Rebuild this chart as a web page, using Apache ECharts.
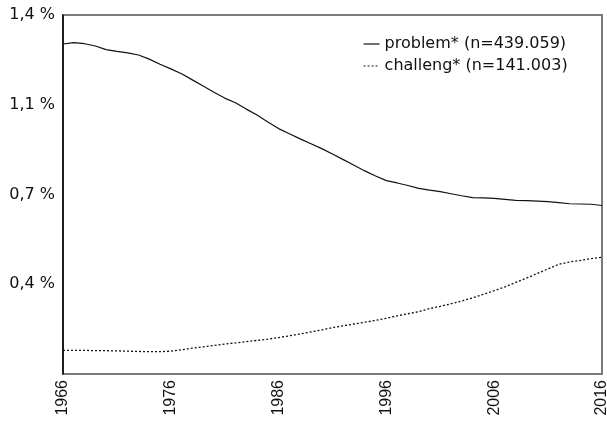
<!DOCTYPE html>
<html>
<head>
<meta charset="utf-8">
<script src="https://cdn.jsdelivr.net/npm/echarts@6/dist/echarts.min.js"></script>
<style>
html,body{margin:0;padding:0;background:#fff;}
#chart{width:607px;height:427px;}
</style>
</head>
<body>
<div id="chart"></div>
<script>
var years = [];
for (var y = 1966; y <= 2016; y++) years.push(String(y));

var problemName = 'problem* (n=439.059)';
var challengName = 'challeng* (n=141.003)';

var problemValues = [
  1.287, 1.292, 1.288, 1.279, 1.265, 1.258, 1.252, 1.244, 1.228, 1.208,
  1.190, 1.171, 1.147, 1.123, 1.099, 1.076, 1.058, 1.033, 1.010, 0.983,
  0.957, 0.937, 0.917, 0.898, 0.879, 0.858, 0.836, 0.814, 0.792, 0.772,
  0.754, 0.745, 0.735, 0.724, 0.717, 0.711, 0.703, 0.695, 0.688, 0.687,
  0.685, 0.681, 0.677, 0.676, 0.674, 0.672, 0.668, 0.664, 0.663, 0.662,
  0.657
];

var challengValues = [
  0.092, 0.092, 0.092, 0.091, 0.091, 0.090, 0.089, 0.088, 0.087, 0.087,
  0.089, 0.094, 0.101, 0.106, 0.111, 0.117, 0.121, 0.126, 0.131, 0.136,
  0.142, 0.149, 0.156, 0.164, 0.172, 0.181, 0.188, 0.195, 0.202, 0.209,
  0.217, 0.227, 0.235, 0.243, 0.255, 0.264, 0.274, 0.285, 0.297, 0.311,
  0.325, 0.340, 0.357, 0.374, 0.392, 0.410, 0.428, 0.437, 0.443, 0.450,
  0.455
];

var chart = echarts.init(document.getElementById('chart'), null, {renderer: 'canvas'});
var font = '"DejaVu Sans", "Liberation Sans", Arial, sans-serif';

chart.setOption({
  animation: false,
  backgroundColor: '#fff',
  textStyle: {fontFamily: font},
  grid: {
    left: 63, top: 15, right: 5, bottom: 53,
    outerBoundsMode: 'none',
    show: true, borderColor: '#7a7a7a', borderWidth: 2, backgroundColor: 'transparent'
  },
  legend: {
    orient: 'vertical',
    left: 358, top: 31,
    itemGap: 6,
    itemWidth: 16, itemHeight: 14,
    itemStyle: {opacity: 0},
    lineStyle: {width: 1.2},
    textStyle: {fontFamily: font, fontSize: 16, color: '#111'},
    data: [problemName, challengName]
  },
  xAxis: {
    type: 'category',
    data: years,
    boundaryGap: false,
    axisLine: {show: false},
    axisTick: {show: false},
    splitLine: {show: false},
    axisLabel: {
      rotate: 90,
      interval: 9,
      margin: 6,
      fontFamily: 'Liberation Sans, Arial, sans-serif',
      fontSize: 16,
      color: '#111'
    }
  },
  yAxis: {
    type: 'value',
    min: 0, max: 1.4, interval: 0.35,
    axisLine: {show: true, lineStyle: {color: '#000', width: 1.5}},
    axisTick: {show: false},
    splitLine: {show: false},
    axisLabel: {
      margin: 8,
      fontFamily: font,
      fontSize: 16,
      color: '#111',
      formatter: function (v) {
        if (Math.abs(v) < 1e-9) return '';
        var r = Math.round(v * 10 + 1e-9) / 10;
        return r.toFixed(1).replace('.', ',') + ' %';
      }
    }
  },
  series: [
    {
      name: problemName,
      type: 'line',
      data: problemValues,
      symbol: 'none',
      lineStyle: {color: '#111', width: 1.2, type: 'solid'},
      itemStyle: {color: '#111'}
    },
    {
      name: challengName,
      type: 'line',
      data: challengValues,
      symbol: 'none',
      lineStyle: {color: '#111', width: 1.3, type: [2, 2]},
      itemStyle: {color: '#111'}
    }
  ]
});
</script>
</body>
</html>
